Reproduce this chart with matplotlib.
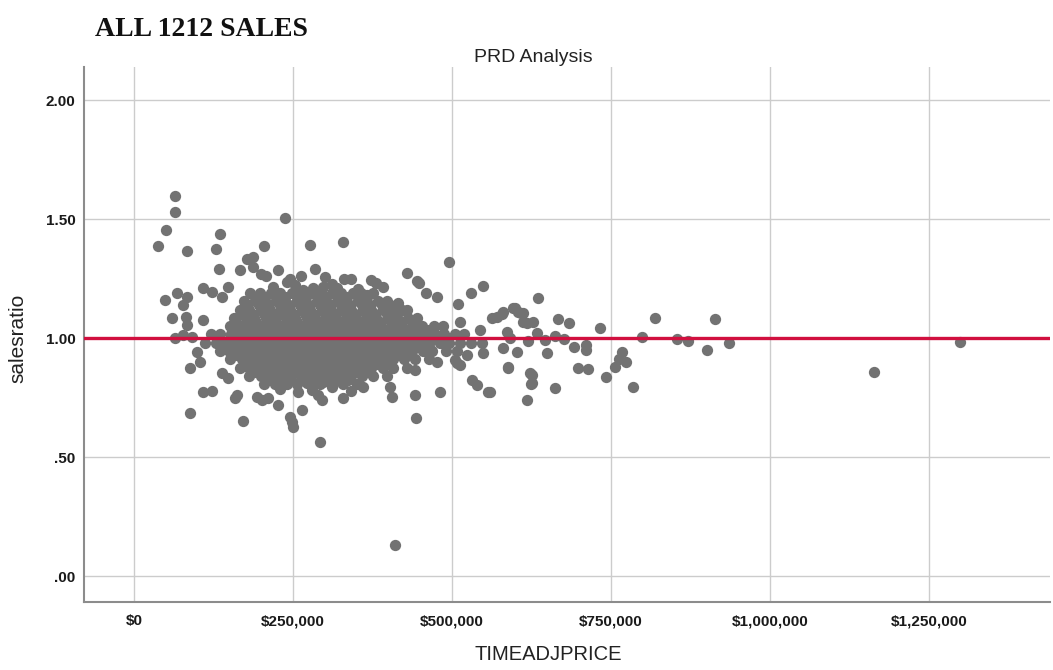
import matplotlib.pyplot as plt

# salesratio levels of the dense core, with the prices (in $1000) read along each level
core_levels = [1.19, 1.155, 1.12, 1.085, 1.05, 1.015, 0.98, 0.945, 0.91, 0.875, 0.84, 0.805]
core_prices = [
    [183, 198, 215, 230, 248, 261, 280, 294, 311, 326, 344, 357, 375],
    [173, 191, 206, 223, 237, 256, 269, 287, 302, 319, 333, 352, 365, 383, 397],
    [167, 181, 199, 214, 231, 245, 264, 277, 295, 310, 327, 341, 360, 373, 391, 405, 422],
    [157, 176, 189, 207, 222, 239, 253, 272, 285, 303, 318, 335, 349, 368, 381, 399, 413, 431, 445],
    [151, 166, 183, 197, 216, 229, 247, 261, 279, 293, 311, 325, 343, 357, 375, 389, 407, 421, 439,
     453, 471, 485],
    [121, 135, 153, 167, 185, 199, 217, 231, 249, 263, 281, 295, 313, 327, 345, 359, 377, 391, 409,
     423, 441, 455, 473, 487, 505, 519],
    [111, 129, 143, 161, 175, 193, 207, 225, 239, 257, 271, 289, 303, 321, 335, 353, 367, 385, 399,
     417, 431, 449, 463, 481, 495, 513, 529, 547],
    [135, 149, 167, 181, 199, 213, 231, 245, 263, 277, 295, 309, 327, 341, 359, 373, 391, 405, 423,
     437, 455, 469, 491, 507],
    [151, 169, 183, 201, 215, 233, 247, 265, 279, 297, 311, 329, 343, 361, 375, 393, 407, 425, 441, 463],
    [167, 181, 199, 213, 231, 245, 263, 277, 295, 309, 327, 341, 359, 373, 391, 407, 429],
    [181, 199, 213, 231, 245, 263, 277, 295, 309, 327, 341, 359, 375, 397],
    [205, 221, 241, 257, 277, 293, 313, 329, 351],
]

# in-between levels inside the core, where the points overlap into a solid mass
mid_levels = [1.172, 1.137, 1.102, 1.067, 1.032, 0.997, 0.962, 0.927, 0.892, 0.857, 0.822]
mid_prices = [
    [191, 206, 223, 238, 256, 270, 289, 302, 321, 335, 352, 367],
    [178, 196, 210, 229, 243, 261, 275, 293, 308, 325, 339, 358, 371, 390],
    [171, 185, 204, 218, 236, 250, 269, 282, 301, 315, 333, 348, 365, 379, 398, 413],
    [160, 178, 192, 210, 224, 242, 257, 274, 289, 307, 321, 340, 353, 371, 386, 404, 419, 437],
    [159, 175, 192, 206, 224, 239, 256, 270, 289, 303, 321, 335, 353, 367, 385, 399, 417, 431,
     449, 463],
    [151, 170, 183, 202, 215, 234, 247, 266, 279, 298, 311, 330, 343, 362, 375, 394, 407,
     426, 439, 458, 471, 490],
    [157, 175, 189, 207, 221, 239, 253, 271, 285, 303, 317, 335, 349, 367, 381, 399, 413,
     431, 445, 463],
    [161, 175, 193, 207, 225, 239, 257, 271, 289, 303, 321, 335, 353, 367, 385, 399, 417, 433],
    [176, 190, 208, 222, 240, 254, 272, 286, 304, 318, 336, 350, 368, 382, 401],
    [191, 205, 223, 237, 255, 269, 287, 301, 319, 333, 351, 366],
    [211, 227, 247, 263, 283, 299, 319, 337],
]

# (price in $1000, salesratio) for the scattered points around the core
upper_pts = [
    (64, 1.597), (64, 1.529), (50, 1.454), (38, 1.387), (83, 1.366), (135, 1.437), (129, 1.374),
    (204, 1.387), (237, 1.504), (277, 1.391), (285, 1.29), (134, 1.29), (178, 1.332), (187, 1.34),
    (329, 1.403), (341, 1.248), (429, 1.273), (380, 1.231), (391, 1.214), (476, 1.172), (495, 1.319),
    (530, 1.189), (549, 1.218), (635, 1.168), (187, 1.30), (167, 1.286), (226, 1.286), (445, 1.24),
    (448, 1.23), (459, 1.19), (509, 1.143), (563, 1.084), (578, 1.10), (599, 1.126), (608, 1.105),
    (618, 1.063), (108, 1.21), (123, 1.193), (148, 1.214), (138, 1.172), (49, 1.16), (68, 1.19),
    (83, 1.172), (77, 1.139), (60, 1.084), (82, 1.088), (83, 1.055), (108, 1.076), (64, 1.0),
    (77, 1.013), (91, 1.004), (319, 1.21), (324, 1.172), (297, 1.214), (266, 1.2), (281, 1.21),
    (366, 1.18), (360, 1.16), (415, 1.147), (429, 1.118), (402, 1.139), (512, 1.067), (544, 1.034),
    (208, 1.26), (200, 1.27), (245, 1.25), (262, 1.26), (300, 1.255), (330, 1.25), (372, 1.245),
    (240, 1.235), (218, 1.215), (253, 1.222), (312, 1.228), (352, 1.205),
]
lower_pts = [
    (88, 0.685), (171, 0.651), (108, 0.773), (123, 0.777), (88, 0.874), (99, 0.941), (104, 0.899),
    (138, 0.853), (148, 0.832), (162, 0.76), (193, 0.752), (211, 0.748), (226, 0.718), (245, 0.668),
    (248, 0.647), (264, 0.697), (289, 0.76), (296, 0.739), (329, 0.748), (297, 0.815), (311, 0.794),
    (360, 0.794), (402, 0.794), (406, 0.752), (442, 0.76), (443, 0.664), (481, 0.773), (442, 0.865),
    (476, 0.899), (505, 0.908), (512, 0.887), (531, 0.824), (539, 0.803), (560, 0.773), (588, 0.874),
    (580, 0.958), (602, 0.941), (523, 0.929), (549, 0.937), (618, 0.74), (591, 1.0), (292, 0.563),
    (410, 0.13), (272, 0.811), (280, 0.782), (250, 0.626), (159, 0.748), (201, 0.74),
    (229, 0.785), (258, 0.772), (341, 0.778),
]
right_pts = [
    (667, 1.08), (684, 1.063), (733, 1.042), (819, 1.084), (913, 1.08), (799, 1.004), (854, 0.996),
    (871, 0.987), (901, 0.95), (935, 0.979), (767, 0.941), (762, 0.912), (773, 0.899), (756, 0.878),
    (742, 0.836), (784, 0.794), (698, 0.874), (714, 0.87), (692, 0.962), (711, 0.97), (711, 0.95),
    (649, 0.937), (662, 0.79), (626, 0.845), (624, 0.807), (612, 1.105), (612, 1.067), (627, 1.067),
    (634, 1.021), (662, 1.008), (676, 0.996), (646, 0.992), (619, 0.987), (596, 1.126), (604, 1.109),
    (571, 1.088), (580, 1.109), (586, 1.025), (588, 0.878), (622, 0.853), (626, 0.811), (556, 0.773),
    (508, 0.895), (1163, 0.857), (1298, 0.983),
]

xticks = [0, 250000, 500000, 750000, 1000000, 1250000]
xtick_labels = ['$0', '$250,000', '$500,000', '$750,000', '$1,000,000', '$1,250,000']
yticks = [0.0, 0.5, 1.0, 1.5, 2.0]
ytick_labels = ['.00', '.50', '1.00', '1.50', '2.00']

price = []
ratio = []
for lvl, row in zip(core_levels + mid_levels, core_prices + mid_prices):
    for p in row:
        price.append(p * 1000)
        ratio.append(lvl)
for p, r in upper_pts + lower_pts + right_pts:
    price.append(p * 1000)
    ratio.append(r)

plt.rcParams['font.family'] = ['Liberation Sans', 'DejaVu Sans']

W, H = 1053, 670
fig = plt.figure(figsize=(W / 100, H / 100), dpi=100)
ax = fig.add_axes([84 / W, 1 - 602 / H, (1050 - 84) / W, (602 - 67) / H])

ax.scatter(price, ratio, s=66, color='#727272', linewidths=0, zorder=3)
ax.axhline(1.0, color='#D1103F', lw=2.4, zorder=4)

ax.set_xlim(-78600, 1440000)
ax.set_ylim(-0.109, 2.139)
ax.set_xticks(xticks)
ax.set_xticklabels(xtick_labels, fontweight='bold', fontsize=11)
ax.set_yticks(yticks)
ax.set_yticklabels(ytick_labels, fontweight='bold', fontsize=11)
ax.tick_params(axis='x', length=0, pad=9, colors='#1a1a1a')
ax.tick_params(axis='y', length=0, pad=6, colors='#1a1a1a')

ax.grid(True, color='#cccccc', lw=1)
ax.set_axisbelow(True)
for side in ['top', 'right']:
    ax.spines[side].set_visible(False)
for side in ['left', 'bottom']:
    ax.spines[side].set_color('#8c8c8c')
    ax.spines[side].set_linewidth(1.5)

fig.text(95 / W, 1 - 36 / H, 'ALL 1212 SALES', family='Liberation Serif', fontweight='bold',
         fontsize=20, ha='left', va='baseline', color='#111111')
fig.text(533 / W, 1 - 57 / H, 'PRD Analysis', fontsize=14, ha='center', va='center', color='#222222')
fig.text(548 / W, 1 - 655 / H, 'TIMEADJPRICE', fontsize=14.5, ha='center', va='center', color='#222222')
fig.text(18 / W, 1 - 338 / H, 'salesratio', fontsize=15, rotation=90, ha='center', va='center',
         color='#222222')

fig.savefig('out.png', dpi=100)
